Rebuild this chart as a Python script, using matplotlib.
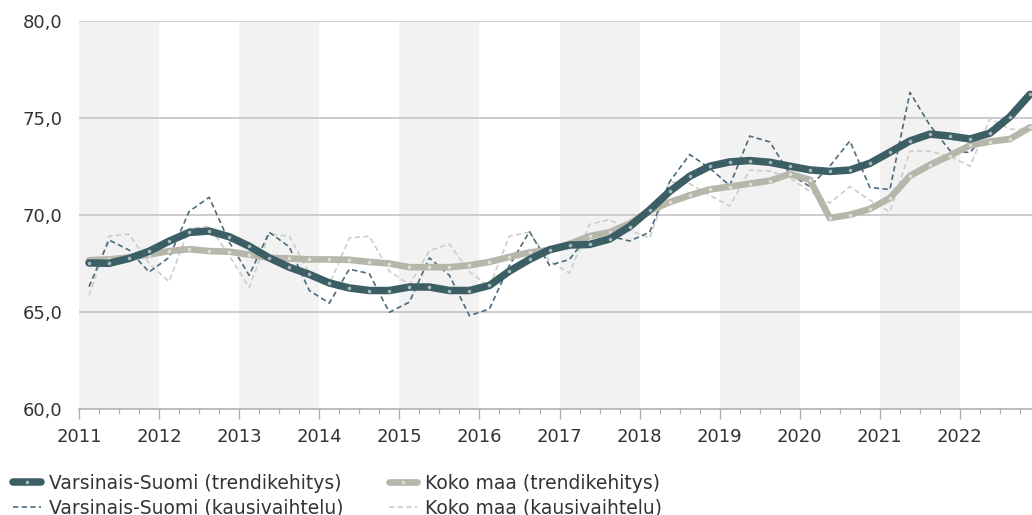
import numpy as np
import matplotlib
matplotlib.use("Agg")
import matplotlib.pyplot as plt
from matplotlib.lines import Line2D
from matplotlib.ticker import FuncFormatter, MultipleLocator

# quarterly points 2011Q1 .. 2022Q4, placed at mid-quarter
quarters = 2011.125 + 0.25 * np.arange(48)

vs_trend = [67.52, 67.50, 67.75, 68.12, 68.64, 69.09, 69.16, 68.87, 68.38, 67.78, 67.30, 66.93,
            66.49, 66.23, 66.10, 66.10, 66.28, 66.28, 66.10, 66.10, 66.36, 67.10, 67.70, 68.20,
            68.44, 68.47, 68.75, 69.39, 70.25, 71.20, 71.98, 72.50, 72.72, 72.79, 72.70, 72.50,
            72.31, 72.23, 72.30, 72.65, 73.22, 73.80, 74.15, 74.05, 73.90, 74.20, 75.05, 76.20]

koko_trend = [67.66, 67.70, 67.80, 67.95, 68.13, 68.23, 68.13, 68.10, 67.95, 67.78, 67.75, 67.70,
              67.70, 67.68, 67.57, 67.49, 67.30, 67.30, 67.30, 67.40, 67.57, 67.83, 68.06, 68.18,
              68.50, 68.90, 69.10, 69.55, 70.20, 70.65, 71.00, 71.30, 71.45, 71.60, 71.75, 72.10,
              71.80, 69.83, 70.00, 70.30, 70.86, 72.00, 72.57, 73.05, 73.57, 73.77, 73.90, 74.50]

vs_season = [66.30, 68.70, 68.18, 67.05, 67.80, 70.17, 70.90, 68.60, 66.88, 69.10, 68.35, 66.10,
             65.45, 67.20, 66.97, 64.98, 65.50, 67.78, 66.88, 64.80, 65.15, 67.40, 69.13, 67.40,
             67.70, 69.05, 68.90, 68.65, 69.10, 71.70, 73.10, 72.40, 71.50, 74.05, 73.75, 72.10,
             71.45, 72.50, 73.80, 71.40, 71.30, 76.30, 74.60, 73.30, 73.20, 74.40, 75.20, 76.30]

koko_season = [65.85, 68.90, 69.00, 67.50, 66.55, 69.30, 69.40, 67.90, 66.25, 69.00, 68.90, 67.00,
               66.40, 68.80, 68.90, 67.10, 66.40, 68.15, 68.50, 67.05, 66.30, 68.90, 69.10, 67.60,
               67.00, 69.50, 69.75, 69.20, 68.80, 71.70, 71.60, 71.00, 70.45, 72.30, 72.25, 71.90,
               71.20, 70.60, 71.45, 70.75, 70.15, 73.27, 73.27, 73.00, 72.50, 74.95, 74.40, 74.40]

years = list(range(2011, 2023))
labels = ["Varsinais-Suomi (trendikehitys)", "Varsinais-Suomi (kausivaihtelu)",
          "Koko maa (trendikehitys)", "Koko maa (kausivaihtelu)"]

dark = "#3c5e65"
dark_dot = "#a8babd"
warm = "#b6b6ab"
warm_dot = "#deded6"
blue = "#4b6b80"
light = "#cdcdc6"
text_c = "#333333"

plt.rcParams['font.family'] = ['DejaVu Sans']

fig = plt.figure(figsize=(10.32, 5.15), dpi=100)
ax = fig.add_axes([79 / 1032, (515 - 409) / 515, (1032 - 79) / 1032, (409 - 20.5) / 515])

for y in years[::2]:
    ax.axvspan(y, y + 1, color="#f2f2f2", lw=0, zorder=0)

for v in [65, 70, 75, 80]:
    ax.axhline(v, color="#c8c8c8", lw=1.3, zorder=1)

ax.plot(quarters, koko_season, color=light, lw=1.2, dashes=(3.2, 2), zorder=2)
ax.plot(quarters, vs_season, color=blue, lw=1.2, dashes=(3.2, 2), zorder=3)
ax.plot(quarters, koko_trend, color=warm, lw=4.8, solid_joinstyle='round', solid_capstyle='round',
        marker='o', ms=2.6, mfc=warm_dot, mec='none', zorder=4)
ax.plot(quarters, vs_trend, color=dark, lw=5.4, solid_joinstyle='round', solid_capstyle='round',
        marker='o', ms=2.6, mfc=dark_dot, mec='none', zorder=5)

ax.set_xlim(2011, 2011 + (1032 - 79) / 80.09)
ax.set_ylim(60, 80)
ax.set_xticks(years)
ax.xaxis.set_minor_locator(MultipleLocator(0.25))
ax.set_yticks([60, 65, 70, 75, 80])
ax.yaxis.set_major_formatter(FuncFormatter(lambda v, p: f"{v:.1f}".replace(".", ",")))

for s in ["top", "right", "left"]:
    ax.spines[s].set_visible(False)
ax.spines["bottom"].set_color("#b0b0b0")
ax.spines["bottom"].set_linewidth(1.2)
ax.tick_params(axis='x', which='major', length=7.5, width=1.0, color="#b0b0b0",
               labelsize=13, labelcolor=text_c, pad=6.5)
ax.tick_params(axis='x', which='minor', length=3.5, width=0.9, color="#b0b0b0")
ax.tick_params(axis='y', length=0, labelsize=13, labelcolor=text_c, pad=12)

handles = [
    Line2D([], [], color=dark, lw=5.4, solid_capstyle='round', marker='o', ms=2.6, mfc=dark_dot, mec='none'),
    Line2D([], [], color=blue, lw=1.2, dashes=(3.2, 2)),
    Line2D([], [], color=warm, lw=4.8, solid_capstyle='round', marker='o', ms=2.6, mfc=warm_dot, mec='none'),
    Line2D([], [], color=light, lw=1.2, dashes=(3.2, 2)),
]
fig.legend(handles, labels, ncol=2, loc='upper left', bbox_to_anchor=(13 / 1032, (515 - 474) / 515),
           frameon=False, borderpad=0, borderaxespad=0, handlelength=1.5, handletextpad=0.4,
           columnspacing=2.45, labelspacing=0.3, fontsize=13.5, labelcolor=text_c, numpoints=1)

fig.savefig("out.png", dpi=100)
